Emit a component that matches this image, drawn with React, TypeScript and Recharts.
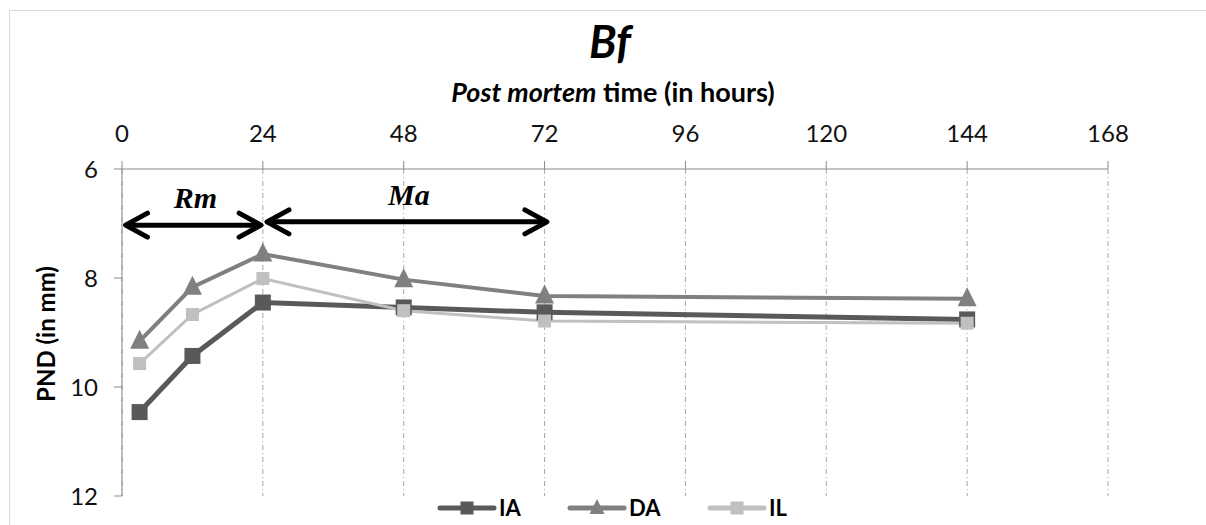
import React from 'react';
import { LineChart, Line, XAxis, YAxis, CartesianGrid, ReferenceLine } from 'recharts';

const times = [3, 12, 24, 48, 72, 144];
const iaValues = [10.46, 9.43, 8.45, 8.54, 8.63, 8.76];
const daValues = [9.16, 8.17, 7.56, 8.03, 8.33, 8.38];
const ilValues = [9.57, 8.67, 8.01, 8.6, 8.79, 8.83];
const xTicks = [0, 24, 48, 72, 96, 120, 144, 168];
const yTicks = [6, 8, 10, 12];
const seriesNames = ['IA', 'DA', 'IL'];
const seriesColors = ['#595959', '#808080', '#c0c0c0'];
const seriesWidths = [5, 4, 3];
const seriesMarkers = ['square', 'triangle', 'square'];
const markerSizes = [16, 19, 13];
const annotations = [
  { label: 'Rm', from: 0.6, to: 23.7, y: 7.03 },
  { label: 'Ma', from: 24.7, to: 72.4, y: 6.97 },
];

const data = times.map((t, i) => ({ t, IA: iaValues[i], DA: daValues[i], IL: ilValues[i] }));
const FONT = 'Lato, "Open Sans", sans-serif';

function Marker({ type, cx, cy, size, color }: any) {
  if (type === 'triangle') {
    const h = size;
    return (
      <path
        d={`M${cx},${cy - h * 0.6} L${cx - size / 2},${cy + h * 0.4} L${cx + size / 2},${cy + h * 0.4} Z`}
        fill={color}
      />
    );
  }
  return <rect x={cx - size / 2} y={cy - size / 2} width={size} height={size} fill={color} />;
}

function makeDot(i: number) {
  return (props: any) => {
    const { cx, cy, index } = props;
    return (
      <g key={`dot-${i}-${index}`}>
        <Marker type={seriesMarkers[i]} cx={cx} cy={cy} size={markerSizes[i]} color={seriesColors[i]} />
      </g>
    );
  };
}

function makeArrow(label: string) {
  return (props: any) => {
    const { x1, y1, x2, y2 } = props;
    const x1n = Number(x1), x2n = Number(x2), y1n = Number(y1), y2n = Number(y2);
    const y = y1n;
    const arm = 22;
    const spread = 12;
    return (
      <g>
        <line x1={x1n} y1={y1n} x2={x2n} y2={y2n} stroke="#000" strokeWidth={5} />
        <polyline
          points={`${x1n + arm},${y - spread} ${x1n},${y} ${x1n + arm},${y + spread}`}
          fill="none"
          stroke="#000"
          strokeWidth={5}
          strokeLinecap="round"
          strokeLinejoin="round"
        />
        <polyline
          points={`${x2n - arm},${y - spread} ${x2n},${y} ${x2n - arm},${y + spread}`}
          fill="none"
          stroke="#000"
          strokeWidth={5}
          strokeLinecap="round"
          strokeLinejoin="round"
        />
        <text
          x={(x1n + x2n) / 2 + 2}
          y={y - 17}
          textAnchor="middle"
          fontFamily='"Liberation Serif", "DejaVu Serif", serif'
          fontWeight="bold"
          fontStyle="italic"
          fontSize={30}
          fill="#000"
        >
          {label}
        </text>
      </g>
    );
  };
}

const legendStarts = [440, 570, 710];

export default function App() {
  return (
    <div
      style={{
        position: 'absolute',
        left: 0,
        top: 0,
        width: 1206,
        height: 525,
        overflow: 'hidden',
        background: '#fff',
        fontFamily: FONT,
      }}
    >
      <div
        style={{
          position: 'absolute',
          left: 9,
          top: 10,
          width: 1400,
          height: 800,
          border: '1px solid #d9d9d9',
        }}
      />
      <div style={{ position: 'absolute', left: 0, top: 0 }}>
        <LineChart width={1206} height={525} data={data} margin={{ top: 109, right: 98, bottom: 29, left: 62 }}>
          <CartesianGrid
            horizontal={false}
            vertical={true}
            stroke="#a6a6a6"
            strokeDasharray="5 3 1 3"
          />
          <XAxis
            dataKey="t"
            type="number"
            orientation="top"
            domain={[0, 168]}
            ticks={xTicks}
            interval={0}
            height={60}
            tickSize={8}
            tickMargin={19}
            stroke="#898989"
            tick={{ fill: '#111', fontSize: 24, fontFamily: FONT }}
            allowDataOverflow
          />
          <YAxis
            type="number"
            reversed
            domain={[6, 12]}
            ticks={yTicks}
            interval={0}
            width={60}
            tickSize={8}
            tickMargin={16}
            stroke="#898989"
            tick={{ fill: '#111', fontSize: 24, fontFamily: FONT }}
            allowDataOverflow
          />
          {annotations.map((a) => (
            <ReferenceLine
              key={a.label}
              segment={[
                { x: a.from, y: a.y },
                { x: a.to, y: a.y },
              ]}
              shape={makeArrow(a.label)}
            />
          ))}
          {seriesNames.map((name, i) => (
            <Line
              key={name}
              dataKey={name}
              type="linear"
              stroke={seriesColors[i]}
              strokeWidth={seriesWidths[i]}
              dot={makeDot(i)}
              activeDot={false}
              isAnimationActive={false}
            />
          ))}
        </LineChart>
      </div>
      <svg
        width={1206}
        height={525}
        style={{ position: 'absolute', left: 0, top: 0, pointerEvents: 'none' }}
      >
        <text x={610} y={58} textAnchor="middle" fontFamily={FONT} fontWeight="bold" fontStyle="italic" fontSize={45} fill="#000">
          Bf
        </text>
        <text x={613} y={102} textAnchor="middle" fontFamily={FONT} fontWeight="bold" fontSize={27} fill="#000">
          <tspan fontStyle="italic">Post mortem</tspan>
          <tspan> time (in hours)</tspan>
        </text>
        <text
          x={0}
          y={0}
          transform="translate(55,334) rotate(-90)"
          textAnchor="middle"
          fontFamily={FONT}
          fontWeight="bold"
          fontSize={24}
          fill="#000"
        >
          PND (in mm)
        </text>
        {seriesNames.map((name, i) => {
          const x = legendStarts[i];
          return (
            <g key={name}>
              <line x1={x} y1={508} x2={x + 54} y2={508} stroke={seriesColors[i]} strokeWidth={5} strokeLinecap="round" />
              <Marker type={seriesMarkers[i]} cx={x + 27} cy={508} size={seriesMarkers[i] === 'triangle' ? 15 : 13} color={seriesColors[i]} />
              <text x={x + 59} y={516} fontFamily={FONT} fontWeight="bold" fontSize={22} fill="#000">
                {name}
              </text>
            </g>
          );
        })}
      </svg>
    </div>
  );
}
